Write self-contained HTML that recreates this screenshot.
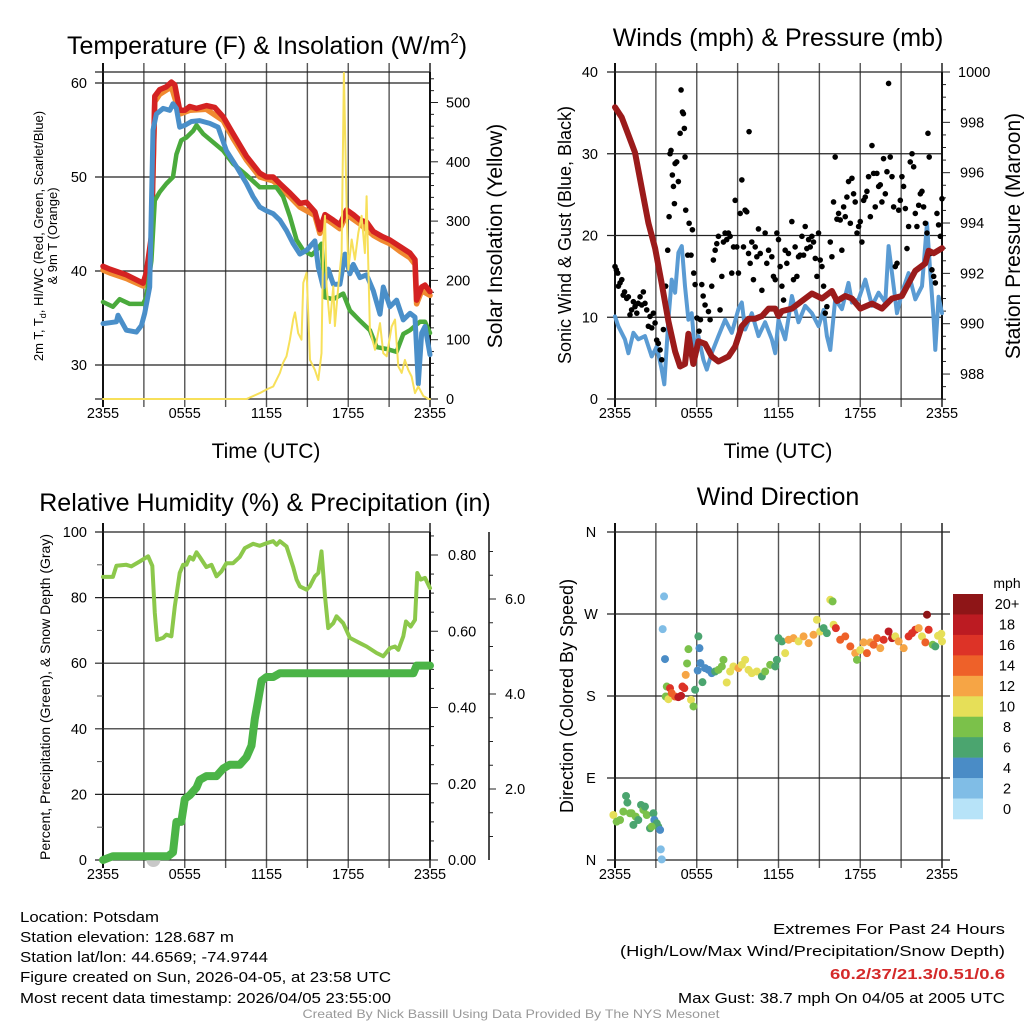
<!DOCTYPE html>
<html><head><meta charset="utf-8"><style>
html,body{margin:0;padding:0;background:#fff;}
svg{display:block;font-family:"Liberation Sans",sans-serif;}
</style></head><body>
<svg id="fig" width="1024" height="1024" viewBox="0 0 1024 1024" xmlns="http://www.w3.org/2000/svg">
<rect width="1024" height="1024" fill="#fff"/>
<g id="layer"></g>
<text x="267" y="54" font-size="25" text-anchor="middle">Temperature (F) &amp; Insolation (W/m<tspan font-size="15" dy="-11">2</tspan><tspan dy="11">)</tspan></text>
<text x="778" y="46" font-size="25" text-anchor="middle">Winds (mph) &amp; Pressure (mb)</text>
<text x="265" y="511" font-size="25" text-anchor="middle">Relative Humidity (%) &amp; Precipitation (in)</text>
<text x="778" y="505" font-size="25" text-anchor="middle">Wind Direction</text>
<text x="266" y="458" font-size="21" text-anchor="middle">Time (UTC)</text>
<text x="778" y="458" font-size="21" text-anchor="middle">Time (UTC)</text>
<text transform="translate(43,236) rotate(-90)" font-size="13" text-anchor="middle">2m T, T<tspan font-size="9" dy="3">d</tspan><tspan dy="-3">, HI/WC (Red, Green, Scarlet/Blue)</tspan></text>
<text transform="translate(57,236) rotate(-90)" font-size="13" text-anchor="middle">&amp; 9m T (Orange)</text>
<text transform="translate(502,236) rotate(-90)" font-size="21" text-anchor="middle">Solar Insolation (Yellow)</text>
<text transform="translate(571,235) rotate(-90)" font-size="18" text-anchor="middle">Sonic Wind &amp; Gust (Blue, Black)</text>
<text transform="translate(1020,236) rotate(-90)" font-size="21" text-anchor="middle">Station Pressure (Maroon)</text>
<text transform="translate(50,697) rotate(-90)" font-size="14" text-anchor="middle">Percent, Precipitation (Green), &amp; Snow Depth (Gray)</text>
<text transform="translate(573,696) rotate(-90)" font-size="18" text-anchor="middle">Direction (Colored By Speed)</text>
<text x="1007" y="588" font-size="14" text-anchor="middle">mph</text>
<g font-size="15">
<text x="20" y="922" textLength="139" lengthAdjust="spacingAndGlyphs">Location: Potsdam</text>
<text x="20" y="942" textLength="214" lengthAdjust="spacingAndGlyphs">Station elevation: 128.687 m</text>
<text x="20" y="962" textLength="248" lengthAdjust="spacingAndGlyphs">Station lat/lon: 44.6569; -74.9744</text>
<text x="20" y="982" textLength="371" lengthAdjust="spacingAndGlyphs">Figure created on Sun, 2026-04-05, at 23:58 UTC</text>
<text x="20" y="1003" textLength="371" lengthAdjust="spacingAndGlyphs">Most recent data timestamp: 2026/04/05 23:55:00</text>
</g>
<g font-size="15" text-anchor="end">
<text x="1005" y="934" textLength="232" lengthAdjust="spacingAndGlyphs">Extremes For Past 24 Hours</text>
<text x="1005" y="956" textLength="385" lengthAdjust="spacingAndGlyphs">(High/Low/Max Wind/Precipitation/Snow Depth)</text>
<text x="1005" y="979" font-weight="bold" fill="#d42a2a" textLength="175" lengthAdjust="spacingAndGlyphs">60.2/37/21.3/0.51/0.6</text>
<text x="1005" y="1003" textLength="327" lengthAdjust="spacingAndGlyphs">Max Gust: 38.7 mph On 04/05 at 2005 UTC</text>
</g>
<text x="511" y="1018" font-size="12" fill="#999" text-anchor="middle" textLength="417" lengthAdjust="spacingAndGlyphs">Created By Nick Bassill Using Data Provided By The NYS Mesonet</text>
</svg>
<script>
// ---------- data ----------
const timeTickLabels = ["2355","0555","1155","1755","2355"];
const timeTickHours = [0,6,12,18,24];
const tempTicks = [30,40,50,60];
const solarTicks = [0,100,200,300,400,500];
const windTicks = [0,10,20,30,40];
const pressTicks = [988,990,992,994,996,998,1000];
const rhTicks = [0,20,40,60,80,100];
const precipTicks = [0.0,0.2,0.4,0.6,0.8];
const snowTicks = [2.0,4.0,6.0];
const dirTicks = [0,90,180,270,360];
const dirLabels = ["N","E","S","W","N"];
const speedBinLabels = ["0","2","4","6","8","10","12","14","16","18","20+"];
const speedBinColors = ["#b7e3f8","#80bde6","#4a8cc6","#4ba56f","#7bc14a","#e6df58","#f6a545","#ee6129","#dd3327","#bc1b22","#8e1517"];

const redH = [0,0.49,1.71,2.94,3.18,3.55,3.8,4.16,4.65,5.02,5.27,5.63,6.0,6.37,6.86,7.59,8.2,8.82,9.55,10.53,11.51,12.0,12.49,12.98,13.72,14.45,14.94,15.55,15.92,16.29,16.9,17.39,17.88,18.37,18.86,19.35,19.84,20.45,21.06,21.8,22.53,22.9,23.02,23.39,23.63,24];
const redT = [40.5,40.2,39.6,38.7,39.8,43.7,58.6,59.3,59.6,60.1,59.8,57.1,57.1,57.5,57.3,57.6,57.4,56.4,54.6,52.2,50.4,50.0,50.0,49.3,48.3,47.2,47.3,46.3,44.4,46.0,45.4,44.9,46.5,46.0,45.4,45.2,44.2,43.7,43.3,42.6,41.9,41.2,36.9,38.3,38.5,37.8];
const orangeH = [0,0.49,1.71,2.94,3.18,3.55,3.8,4.16,5.02,5.63,6.37,7.59,8.82,9.55,10.53,11.51,12.49,13.72,14.45,15.55,15.92,16.29,16.9,17.39,17.88,18.86,19.84,20.45,21.06,21.8,22.53,22.9,23.02,23.39,24];
const orangeT = [40.1,39.8,39.2,38.4,39.4,43.2,58.0,58.8,59.6,56.7,57.1,57.2,56.0,54.1,51.8,50.0,49.6,47.9,46.8,45.9,44.0,45.6,45.0,44.5,46.0,45.0,43.8,43.3,42.9,42.1,41.4,40.7,36.5,37.9,37.4];
const greenH = [0,0.73,1.22,1.96,2.94,3.18,3.55,3.8,4.16,4.65,5.14,5.39,5.75,6.12,6.61,6.86,7.35,8.08,8.82,9.55,10.53,11.51,12.0,12.73,13.22,13.72,14.21,14.7,15.31,15.67,16.04,16.29,16.9,17.63,18.12,18.86,19.59,20.08,20.82,21.55,22.04,22.53,23.26,23.63,24];
const greenT = [36.7,36.2,37.0,36.5,36.5,37.2,41.1,47.5,48.4,49.3,50.0,52.4,53.9,54.2,54.9,55.5,54.6,53.7,52.8,51.4,50.2,48.9,48.9,48.9,47.9,45.8,43.3,42.2,41.7,42.2,42.9,37.2,37.0,37.6,35.8,34.7,33.7,31.9,31.7,31.4,33.3,33.7,34.6,34.6,33.4];
const blueH = [0,0.98,1.1,1.71,2.45,2.82,3.06,3.43,3.67,3.92,4.41,4.9,5.14,5.39,5.63,6.0,6.49,7.1,7.84,8.45,9.06,9.8,10.53,11.02,11.51,12.0,12.49,12.98,13.47,13.96,14.45,14.94,15.55,15.8,16.16,16.53,16.9,17.39,17.76,18.12,18.37,18.86,19.35,19.84,20.33,20.57,21.06,21.55,22.04,22.53,22.9,23.14,23.39,23.63,24];
const blueT = [34.4,34.6,35.3,33.7,33.5,34.2,35.5,38.3,55.0,56.7,57.3,57.1,57.8,57.3,55.3,55.5,55.9,56.0,55.7,55.3,52.8,51.1,49.3,47.9,46.8,46.4,46.1,45.4,44.3,42.9,41.8,42.2,43.2,40.4,38.3,40.2,38.6,38.6,41.8,39.7,40.7,39.3,39.6,37.9,35.4,38.3,36.2,36.9,34.8,35.5,35.1,28.0,33.4,34.1,31.1];
const solarH = [0,10.53,11.51,12,12.49,12.98,13.22,13.47,13.72,13.96,14.09,14.33,14.57,14.7,14.94,15.06,15.19,15.55,15.8,16.04,16.16,16.29,16.41,16.65,16.9,17.02,17.27,17.51,17.68,17.88,18,18.25,18.49,18.74,18.98,19.22,19.35,19.59,19.96,20.33,20.57,20.82,21.18,21.43,21.67,21.92,22.16,22.41,22.65,22.9,23.14,23.51,23.88,24];
const solarW = [0,0,10,16,21,44,61,72,100,134,146,111,100,196,213,146,66,49,32,77,263,309,190,128,190,123,190,246,550,325,218,269,235,280,309,246,342,117,83,128,77,72,122,134,55,44,66,49,38,10,21,5,0,0];

const pressH = [0,0.49,0.98,1.47,1.96,2.45,2.94,3.43,3.92,4.41,4.78,5.14,5.39,5.75,6.12,6.61,7.1,7.59,8.33,8.82,9.31,9.8,10.29,10.78,11.27,11.76,12.0,12.25,12.98,13.72,14.45,15.19,15.92,16.29,16.9,17.39,18.0,18.86,19.59,20.33,21.06,21.55,22.04,22.78,23.02,23.39,24];
const pressMb = [998.6,998.2,997.5,996.8,995.4,994.0,993.0,991.6,990.1,988.9,988.3,988.4,989.6,988.4,989.3,989.2,988.7,988.5,988.7,989.1,989.9,990.2,990.2,990.3,990.6,990.6,990.3,990.5,990.6,990.9,991.2,991.0,991.3,990.9,991.1,991.0,990.6,990.8,990.6,991.0,991.1,991.6,992.1,992.4,992.9,992.8,993.0];
const windH = [0,0.24,0.73,0.98,1.35,1.71,2.2,2.69,3.06,3.43,3.62,3.92,4.16,4.41,4.65,4.9,5.14,5.39,5.63,5.88,6.12,6.49,6.74,7.1,7.59,8.08,8.57,9.06,9.31,9.55,10.04,10.53,11.02,11.51,11.76,12.0,12.49,12.98,13.47,13.96,14.45,14.94,15.31,15.55,15.8,16.16,16.65,17.14,17.39,17.88,18.37,18.86,19.35,19.84,20.08,20.33,20.7,21.06,21.55,22.04,22.53,22.9,23.14,23.39,23.51,23.75,24];
const windMph = [10.1,8.9,7.3,5.6,8.1,7.3,7.7,5.2,6.4,3.6,1.8,9.7,14.6,13.0,17.9,18.7,13.8,9.7,10.5,5.6,7.7,4.8,3.6,5.6,7.7,9.7,8.1,11.0,11.8,8.5,10.5,7.7,9.4,7.3,5.6,9.7,7.3,12.6,9.4,11.4,10.5,8.9,10.9,7.7,6.0,12.2,11.0,14.2,11.8,12.2,14.6,11.4,13.0,11.8,18.7,15.4,10.5,13.0,15.4,12.2,13.8,21.5,15.4,9.7,6.0,12.5,10.5];
const gustH = [0,0.1,0.2,0.25,0.37,0.5,0.6,0.7,0.86,0.98,1.1,1.22,1.35,1.47,1.6,1.7,1.84,1.96,2.08,2.2,2.33,2.45,2.57,2.7,2.82,2.94,3.06,3.18,3.31,3.43,3.55,3.72,3.87,3.97,4.04,4.11,4.21,4.29,4.36,4.41,4.53,4.65,4.78,4.85,4.95,5.02,5.09,5.14,5.19,5.34,5.44,5.58,5.68,5.78,5.88,6.02,6.17,6.27,6.37,6.47,6.61,6.86,6.98,7.1,7.22,7.35,7.47,7.59,7.71,7.84,7.96,8.08,8.2,8.33,8.45,8.57,8.7,8.82,8.94,9.06,9.19,9.31,9.43,9.55,9.67,9.8,9.84,9.92,10.04,10.16,10.29,10.41,10.53,10.66,10.78,11.02,11.14,11.27,11.51,11.63,11.76,11.88,12.0,12.12,12.25,12.37,12.49,12.61,12.73,12.98,13.1,13.22,13.35,13.47,13.59,13.72,13.84,13.96,14.08,14.21,14.33,14.45,14.57,14.7,14.82,14.94,15.06,15.19,15.31,15.43,15.55,15.8,15.92,16.04,16.16,16.29,16.41,16.53,16.65,16.78,16.9,17.02,17.14,17.27,17.39,17.51,17.63,17.76,17.88,18.0,18.12,18.25,18.37,18.49,18.61,18.74,18.86,18.98,19.1,19.22,19.35,19.47,19.59,19.71,19.84,19.96,20.08,20.2,20.33,20.45,20.57,20.7,20.82,20.94,21.06,21.18,21.31,21.43,21.55,21.67,21.8,21.92,22.04,22.16,22.29,22.41,22.53,22.65,22.78,22.9,22.97,23.06,23.14,23.26,23.39,23.51,23.63,23.75,23.88,24.0];
const gustMph = [16.2,15.8,15.4,13.8,14.2,14.6,12.7,13.1,12.3,12.5,10.3,10.9,11.9,11.3,10.5,11.7,12.5,11.5,13.1,11.7,10.9,8.9,10.1,8.7,10.5,9.3,7.2,6.8,6.0,4.8,8.5,13.8,18.2,22.3,30.0,30.4,27.4,26.0,23.9,28.8,29.0,26.6,32.5,37.8,35.1,34.9,33.1,29.6,23.1,17.6,21.5,17.6,20.7,15.4,14.0,9.9,8.3,9.7,14.0,12.6,11.5,10.7,9.7,13.8,17.0,18.2,19.0,19.9,10.9,15.0,19.2,20.3,19.5,20.3,19.9,15.4,18.6,24.3,18.6,15.4,22.7,26.8,18.6,23.1,22.9,17.8,32.7,16.6,19.2,14.6,18.6,17.4,20.8,17.8,13.3,20.3,16.6,18.2,17.4,15.0,14.6,20.3,19.5,16.2,13.8,12.1,18.2,16.6,17.8,21.7,14.6,18.6,15.0,17.4,17.6,19.9,17.6,21.1,18.4,19.5,18.6,19.9,19.2,17.2,15.0,20.3,17.0,16.2,13.8,10.5,11.3,19.2,17.4,24.1,29.6,22.0,22.7,21.9,18.2,23.5,22.3,24.7,26.6,21.5,27.0,25.1,24.1,20.3,21.1,21.7,19.2,24.3,24.7,25.4,27.2,22.3,31.0,27.6,23.5,27.6,26.0,26.2,24.1,29.4,25.1,27.8,38.6,29.6,27.2,23.5,16.2,16.6,23.1,24.3,27.2,26.0,23.3,18.4,21.1,29.0,30.0,28.4,22.7,21.1,23.7,25.1,25.4,23.5,21.5,20.3,32.5,29.6,17.8,15.8,15.0,14.2,22.7,21.3,19.9,24.5];

const rhH = [0,0.73,0.98,1.71,2.08,2.69,3.31,3.62,3.8,3.97,4.41,4.65,5.02,5.27,5.63,5.88,6.12,6.37,6.61,6.86,7.1,7.59,7.96,8.33,8.69,9.06,9.55,10.04,10.41,11.02,11.51,12.0,12.49,12.74,12.98,13.47,13.96,14.21,14.45,14.94,15.18,15.55,15.8,16.04,16.29,16.53,16.9,17.14,17.63,18.12,18.86,19.35,20.08,20.57,21.06,21.43,21.67,22.04,22.24,22.58,22.9,23.07,23.32,23.63,24];
const rhPct = [86.3,86.3,89.7,90.0,89.5,91.0,92.6,89.7,75.3,67.1,67.7,68.7,68.2,77.3,87.5,90.0,90.0,92.4,91.6,93.8,92.4,89.3,90.0,86.5,88.0,90.5,90.5,92.4,95.1,96.4,95.8,96.6,97.2,96.1,97.2,95.6,89.3,85.5,83.4,82.4,83.4,86.5,87.5,94.1,80.4,70.7,72.2,74.3,72.2,67.7,66.1,65.1,63.1,62.1,64.6,65.1,64.1,68.2,72.7,71.2,73.2,87.5,85.5,86.0,82.9];
const precipH = [0,0.73,2.69,4.78,5.14,5.39,5.75,6.0,6.37,6.86,7.1,7.59,8.33,8.82,9.31,10.04,10.53,10.9,11.14,11.39,11.63,12.0,12.49,12.98,14.45,22.78,23.02,24];
const precipIn = [0.0,0.01,0.01,0.01,0.02,0.10,0.10,0.16,0.17,0.19,0.21,0.22,0.22,0.24,0.25,0.25,0.27,0.30,0.37,0.42,0.47,0.48,0.48,0.49,0.49,0.49,0.51,0.51];
const snowH = [3.7];
const snowIn = [0.0];

const dirH = [-0.12,0.12,0.37,0.61,0.81,0.91,1.1,1.35,1.52,1.71,1.91,2.08,2.33,2.57,2.82,2.89,3.06,3.18,3.31,3.36,3.43,2.69,2.2,1.22,3.6,3.5,3.67,3.8,3.72,3.92,4.04,4.16,4.41,4.65,4.85,4.95,5.09,5.19,5.29,5.39,5.58,5.76,5.88,6.07,6.12,6.2,6.27,6.42,6.61,6.86,7.1,7.35,7.59,7.84,7.96,8.2,8.45,8.69,9.06,9.31,9.55,9.8,10.04,10.41,10.78,11.02,11.39,11.76,11.88,12.0,12.25,12.49,12.74,13.1,13.47,13.84,14.21,14.57,14.82,15.06,15.31,15.55,15.8,15.97,16.04,16.21,16.53,16.9,17.27,17.63,17.76,18.0,18.25,18.49,18.74,18.98,19.23,19.47,19.72,20.08,20.33,20.57,20.82,21.19,21.55,21.8,22.04,22.29,22.53,22.78,22.9,23.02,23.32,23.51,23.71,24,23.95];
const dirDeg = [49.4,42.1,43.9,53.1,70.3,63.0,51.3,38.5,47.6,43.9,60.4,54.9,49.4,34.8,51.3,43.9,40.3,36.6,33.0,11.7,0.7,36.6,58.6,51.3,289.3,253.4,220.5,190.4,179.4,176.5,188.6,183.1,179.4,178.7,180.2,190.4,188.6,203.2,215.7,231.4,175.8,168.5,186.8,208.0,245.4,232.5,216.1,195.2,210.6,208.7,205.1,206.9,208.7,212.4,219.7,194.8,206.9,212.4,210.6,214.2,219.7,208.7,205.1,206.9,201.5,206.9,214.2,212.4,219.7,243.5,239.9,227.0,241.7,243.5,239.9,245.4,238.0,247.2,263.7,250.8,254.5,249.0,285.6,283.8,258.2,254.5,241.7,245.4,234.4,227.0,219.7,230.5,238.8,227.0,238.8,236.2,243.5,232.5,241.7,250.8,243.5,245.4,239.9,232.5,245.4,249.0,252.7,254.5,245.4,238.8,269.2,252.7,236.2,234.4,246.1,239.9,248.3];
const dirSpeed = [10,8,8,8,7,6,8,6,8,6,6,8,8,6,6,4,6,6,4,2,2,8,7,8,2,2,4,8,8,10,16,14,14,18,18,16,16,12,8,8,10,8,6,4,6,4,4,6,4,4,4,6,8,8,8,10,10,10,12,10,10,10,10,10,6,8,8,6,6,6,6,10,12,12,10,12,12,12,10,10,6,6,10,8,10,16,14,14,14,12,8,10,12,14,12,14,14,12,16,18,18,10,12,12,16,16,16,12,10,14,20,16,8,6,10,10,10];

// ---------- helpers ----------
const NS = "http://www.w3.org/2000/svg";
const layer = document.getElementById("layer");
function mk(tag, attrs, parent) {
  const el = document.createElementNS(NS, tag);
  for (const k in attrs) el.setAttribute(k, attrs[k]);
  (parent || layer).appendChild(el);
  return el;
}
function xT(h, off) { return off + 103 + h * 327 / 24; }
const yTemp = t => 83 + (60 - t) * 9.4;
const ySolar = s => 399 - s * 0.593;
const yWind = w => 399 - w * 327 / 40;
const yPress = p => 72 + (1000 - p) * 25.17;
const yRH = r => 860 - r * 3.28;
const yPrecip = p => 860 - p * 381.25;
const ySnow = s => 884 - s * 47.5;
const yDir = d => 860 - d * 328 / 360;
function linePath(hs, vs, off, yf) {
  let d = "";
  for (let i = 0; i < hs.length; i++) d += (i ? "L" : "M") + xT(hs[i], off).toFixed(1) + "," + yf(vs[i]).toFixed(1);
  return d;
}

// ---------- frames / grids ----------
function timeAxis(off, top, bottom, name) {
  for (let k = 0; k <= 8; k++) {
    const x = xT(k * 3, off);
    const l = mk("line", {x1: x, y1: top - 9, x2: x, y2: bottom + 8, stroke: (k === 0 || k === 8) ? "#111" : "#555", "stroke-width": (k === 0) ? 2 : 1.4});
    
    
  }
  for (let i = 0; i < timeTickHours.length; i++) {
    const t = mk("text", {x: xT(timeTickHours[i], off), y: bottom + 19, "font-size": 14.5, "text-anchor": "middle"});
    t.textContent = timeTickLabels[i];
    
    
  }
}
function hGrid(off, y, x2, name) {
  const l = mk("line", {x1: off + 95, y1: y, x2: x2, y2: y, stroke: "#222", "stroke-width": 1.2});
  
  
}
function leftLabel(x, y, txt, name) {
  const t = mk("text", {x: x, y: y + 5, "font-size": 14.5, "text-anchor": "end"});
  t.textContent = txt;
  
  
}
function rightTick(x, y, len, name) {
  const l = mk("line", {x1: x, y1: y, x2: x + len, y2: y, stroke: "#222", "stroke-width": 1});
  
  
}
function rightLabel(x, y, txt, name) {
  const t = mk("text", {x: x, y: y + 5, "font-size": 14.5});
  t.textContent = txt;
  
  
}

// Panel 1: temperature
timeAxis(0, 72, 399, 'temperature');
hGrid(0, 72, 430, 'temperature-top-border');
hGrid(0, 399, 438, 'temperature-bottom-border');
tempTicks.forEach(t => { hGrid(0, yTemp(t), 430, 'temperature-gridline'); leftLabel(87, yTemp(t), String(t), 'temperature-tick-label'); });
for (let s = 0; s <= 540; s += 20) rightTick(430, ySolar(s), s % 100 === 0 ? 8 : 4, 'solar-tick');
solarTicks.forEach(s => rightLabel(446, ySolar(s), String(s), 'solar-tick-label'));
{
  const ax = mk("line", {x1: 430, y1: 72, x2: 430, y2: 399, stroke: "#111", "stroke-width": 2});
  
  
}

// Panel 2: winds
timeAxis(512, 72, 399, 'winds');
windTicks.forEach(w => { hGrid(512, yWind(w), 942, 'wind-gridline'); leftLabel(598, yWind(w), String(w), 'wind-tick-label'); });
for (let p = 987; p <= 1000; p += 0.5) rightTick(942, yPress(p), p % 2 === 0 ? 8 : 4, 'pressure-tick');
pressTicks.forEach(p => rightLabel(p === 1000 ? 958 : 960, yPress(p), String(p), 'pressure-tick-label'));
{
  const ax = mk("line", {x1: 942, y1: 72, x2: 942, y2: 399, stroke: "#111", "stroke-width": 2});
  
  
}

// Panel 3: RH
timeAxis(0, 532, 860, 'humidity');
rhTicks.forEach(r => { hGrid(0, yRH(r), 430, 'humidity-gridline'); leftLabel(87, yRH(r), String(r), 'humidity-tick-label'); });
for (let r = 10; r < 100; r += 20) {
  const l = mk("line", {x1: 97, y1: yRH(r), x2: 103, y2: yRH(r), stroke: "#555", "stroke-width": 1});
  
  
}
for (let p = 0; p <= 0.86; p += 0.05) rightTick(430, yPrecip(p), Math.abs(p * 5 - Math.round(p * 5)) < 0.01 ? 8 : 4, 'precip-tick');
precipTicks.forEach(p => rightLabel(448, yPrecip(p), p.toFixed(2), 'precip-tick-label'));
{
  const ax = mk("line", {x1: 430, y1: 532, x2: 430, y2: 860, stroke: "#111", "stroke-width": 2});
  
  
  const ax2 = mk("line", {x1: 489, y1: 532, x2: 489, y2: 860, stroke: "#111", "stroke-width": 1.5});
  
  
}
for (let s = 0.5; s <= 7; s += 0.5) {
  if (ySnow(s) < 532 || ySnow(s) > 860) continue;
  rightTick(489, ySnow(s), s % 2 === 0 ? 7 : 4, 'snow-depth-tick');
}
snowTicks.forEach(s => rightLabel(505, ySnow(s), s.toFixed(1), 'snow-depth-tick-label'));

// Panel 4: direction
timeAxis(512, 532, 860, 'direction');
dirTicks.forEach((d, i) => {
  hGrid(512, yDir(d), 950, 'direction-gridline');
  const t = mk("text", {x: 591, y: yDir(d) + 5, "font-size": 14.5, "text-anchor": "middle"});
  t.textContent = dirLabels[i];
  
  
});

// ---------- series ----------
function series(hs, vs, off, yf, color, w, name) {
  const p = mk("path", {d: linePath(hs, vs, off, yf), fill: "none", stroke: color, "stroke-width": w, "stroke-linejoin": "round", "stroke-linecap": "round"});
  
  
}
series(orangeH, orangeT, 0, yTemp, "#f08a30", 5.5, 'series-9m-temperature');
series(redH, redT, 0, yTemp, "#d42222", 5.5, 'series-2m-temperature');
series(greenH, greenT, 0, yTemp, "#4aaa3c", 4.5, 'series-dewpoint');
series(blueH, blueT, 0, yTemp, "#4a8fc9", 5, 'series-wind-chill');
series(solarH, solarW, 0, ySolar, "#f7e05a", 2, 'series-solar-insolation');

series(windH, windMph, 512, yWind, "#5a9bd3", 4, 'series-sonic-wind');
for (let i = 0; i < gustH.length; i++) {
  const c = mk("circle", {cx: xT(gustH[i], 512), cy: yWind(gustMph[i]), r: 2.8, fill: "#000"});
  
  
}
series(pressH, pressMb, 512, yPress, "#9b1b1b", 6, 'series-station-pressure');

series(rhH, rhPct, 0, yRH, "#8cc84b", 4, 'series-relative-humidity');
for (let i = 0; i < snowH.length; i++) {
  const c = mk("circle", {cx: xT(snowH[i], 0), cy: ySnow(snowIn[i]) - 24, r: 7, fill: "#c8c8c8"});
  
  
}
series(precipH, precipIn, 0, yPrecip, "#4bb447", 8, 'series-precipitation');

function colorFor(s) { return speedBinColors[Math.min(10, Math.floor(s / 2))]; }
for (let i = 0; i < dirH.length; i++) {
  const c = mk("circle", {cx: xT(Math.max(-0.12, dirH[i]), 512), cy: yDir(dirDeg[i]), r: 4, fill: colorFor(dirSpeed[i])});
  
  
}

// ---------- colorbar ----------
const cbTop = 594, cbH = 225 / 11;
for (let i = 0; i < 11; i++) {
  const k = 10 - i;
  const r = mk("rect", {x: 953, y: cbTop + i * cbH, width: 30, height: cbH + 0.3, fill: speedBinColors[k]});
  
  
  const t = mk("text", {x: 1007, y: cbTop + (i + 0.5) * cbH + 5, "font-size": 14.5, "text-anchor": "middle"});
  t.textContent = speedBinLabels[k];
  
  
}
</script>
</body></html>
